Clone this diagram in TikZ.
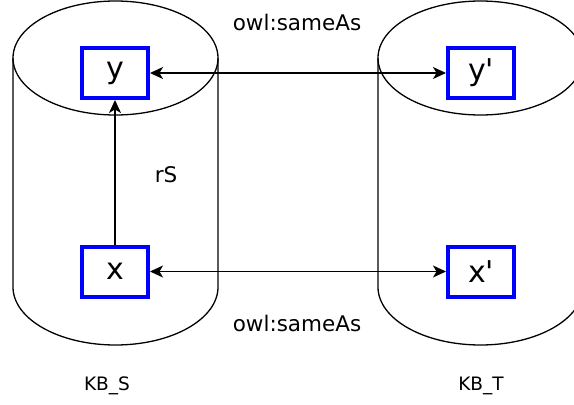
\documentclass[tikz,border=0pt]{standalone}
\usepackage{fontspec}
\setmainfont{DejaVu Sans}
\newfontfamily\entfont{DejaVu Sans}
\usetikzlibrary{arrows.meta}
\begin{document}
\begin{tikzpicture}[x=1pt,y=-1pt,
  cyl/.style={line width=1.3pt},
  ent/.style={draw=blue, line width=4pt, minimum width=66pt, minimum height=50pt, inner sep=0pt, font=\entfont\fontsize{30}{30}\selectfont},
  lbl/.style={font=\fontsize{21.5}{23}\selectfont, inner sep=0pt},
  kb/.style={font=\fontsize{18.5}{20}\selectfont, inner sep=0pt},
  link/.style={line width=1.3pt, {Stealth[length=13pt,width=12pt,inset=3.5pt]}-{Stealth[length=13pt,width=12pt,inset=3.5pt]}},
  rel/.style={line width=1.3pt, -{Stealth[length=13pt,width=12pt,inset=3.5pt]}}]
\useasboundingbox (0,0) rectangle (574,405);
\clip (0,0) rectangle (574,405);
% left cylinder
\draw[cyl] (115.5,58) ellipse [x radius=102.5pt, y radius=57pt];
\draw[cyl] (13,58) -- (13,287) arc [start angle=180, end angle=360, x radius=102.5pt, y radius=58pt] -- (218,58);
% right cylinder
\draw[cyl] (480.5,58) ellipse [x radius=102.5pt, y radius=57pt];
\draw[cyl] (378,58) -- (378,287) arc [start angle=180, end angle=360, x radius=102.5pt, y radius=58pt] -- (583,58);
% entities
\node[ent] (y) at (115,73) {y};
\node[ent] (yp) at (481,73) {y'};
\node[ent] (x) at (115,271.5) {x};
\node[ent] (xp) at (481,271.5) {x'};
% connectors
\draw[link] (y) -- (yp);
\draw[link] (x) -- (xp);
\draw[rel] (x) -- (y);
% labels
\node[lbl] (sa1) at (297,22) {owl:sameAs};
\node[lbl] (sa2) at (297,323) {owl:sameAs};
\node[lbl] (rs) at (166,175) {rS};
\node[kb] (kbs) at (107,386) {KB\_S};
\node[kb] (kbt) at (481,386) {KB\_T};
\end{tikzpicture}
\end{document}
